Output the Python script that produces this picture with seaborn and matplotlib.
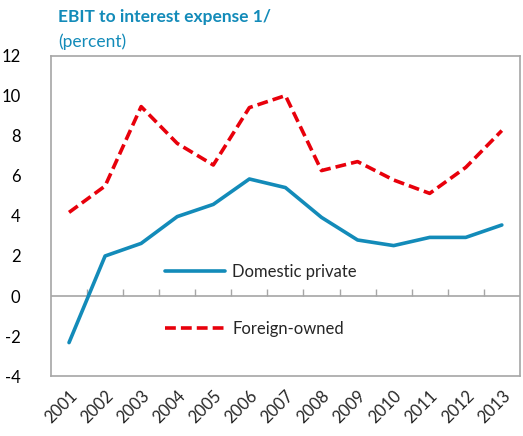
import numpy as np
import pandas as pd
import matplotlib
matplotlib.use('Agg')
import matplotlib.pyplot as plt
import seaborn as sns

# Data
years = ['2001', '2002', '2003', '2004', '2005', '2006', '2007',
         '2008', '2009', '2010', '2011', '2012', '2013']
domestic = [-2.33, 2.0, 2.63, 3.97, 4.58, 5.85, 5.42, 3.93, 2.8, 2.52, 2.93, 2.93, 3.55]
foreign = [4.18, 5.5, 9.47, 7.63, 6.55, 9.42, 10.02, 6.27, 6.72, 5.8, 5.13, 6.43, 8.27]
yticks = [-4, -2, 0, 2, 4, 6, 8, 10, 12]

blue = '#138bb9'
red = '#e8000b'
grey = '#a6a6a6'

sns.set_style('white')
plt.rcParams['font.family'] = ['Lato', 'DejaVu Sans']

df = pd.DataFrame({'year': years, 'Domestic private': domestic, 'Foreign-owned': foreign})
df['x'] = np.arange(len(years))

fig = plt.figure(figsize=(5.23, 4.36), dpi=100)
ax = fig.add_axes([0.0975, 0.1376, 0.8965, 0.734])

sns.lineplot(data=df, x='x', y='Domestic private', ax=ax, color=blue,
             linewidth=2.6, label='Domestic private')
sns.lineplot(data=df, x='x', y='Foreign-owned', ax=ax, color=red,
             linewidth=2.6, dashes=False, label='Foreign-owned')
ax.lines[1].set_dashes([3, 1.4])

ax.set_xlim(-0.5, len(years) - 0.5)
ax.set_ylim(-4, 12)
ax.set_yticks(yticks)
ax.set_yticklabels([str(v) for v in yticks], fontsize=12)
ax.tick_params(axis='y', direction='in', length=6, color=grey, pad=22, labelcolor='black')

ax.set_xticks(df['x'])
ax.set_xticklabels(years, rotation=45, ha='right', rotation_mode='anchor', fontsize=12)
ax.tick_params(axis='x', length=0, pad=8)
ax.set_xlabel('')
ax.set_ylabel('')

for s in ax.spines.values():
    s.set_color(grey)
    s.set_linewidth(1.2)

# zero line with category separators
ax.axhline(0, color=grey, linewidth=1.2, zorder=1)
ax.vlines(np.arange(len(years) - 1) + 0.5, 0, 0.33, color=grey, linewidth=1, zorder=1)

leg = ax.legend(loc='upper left', bbox_to_anchor=(0.243, 0.35), frameon=False,
                fontsize=12, handlelength=3.6, handletextpad=0.45,
                labelspacing=2.45, borderpad=0, borderaxespad=0)

fig.text(0.111, 0.961, 'EBIT to interest expense 1/', color=blue, fontsize=12.5,
         fontweight='bold', va='center', ha='left')
fig.text(0.111, 0.904, '(percent)', color=blue, fontsize=12.5, va='center', ha='left')

fig.savefig('out.png', dpi=100)
